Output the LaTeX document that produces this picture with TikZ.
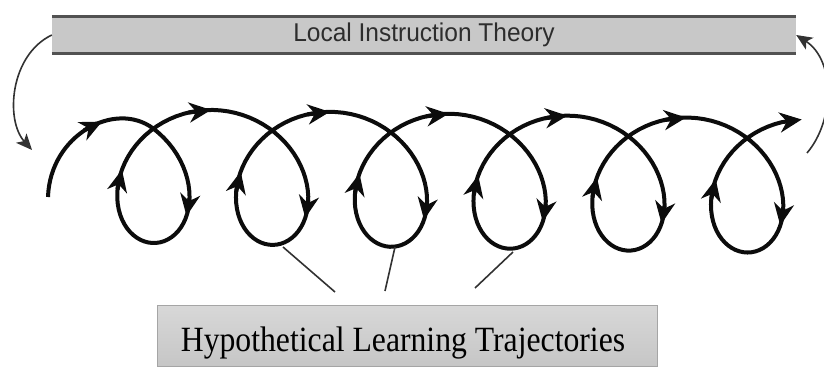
\documentclass[tikz,border=0pt]{standalone}
\usepackage{graphicx}
\usepackage{fontspec}
\setmainfont{Liberation Serif}
\newfontfamily\barfont{Liberation Sans}
\usetikzlibrary{arrows.meta,positioning}
\definecolor{barFill}{RGB}{200,200,200}
\definecolor{barLine}{RGB}{82,82,82}
\definecolor{barInk}{RGB}{45,45,45}
\definecolor{boxTop}{RGB}{216,216,216}
\definecolor{boxBottom}{RGB}{198,198,198}
\definecolor{boxLine}{RGB}{165,165,165}
\definecolor{curlInk}{RGB}{12,12,12}
\definecolor{pointerInk}{RGB}{50,50,50}
\tikzset{
  theorybar/.style={fill=barFill, minimum width=744pt, minimum height=37pt, inner sep=0pt, text=barInk, font=\barfont\fontsize{24.5}{28}\selectfont},
  barline/.style={draw=barLine, line width=3pt},
  hltbox/.style={draw=boxLine, line width=1pt, top color=boxTop, bottom color=boxBottom, minimum width=500pt, minimum height=61pt, inner sep=0pt},
  hlttext/.style={inner sep=0pt, text=black, font=\fontsize{31.7}{36}\selectfont},
  curl/.style={draw=curlInk, line width=4pt},
  curltip/.style={curl, -{Stealth[length=22pt, width=20pt, inset=7pt]}},
  feedback/.style={draw=pointerInk, line width=1.6pt, -{Stealth[length=16pt, width=14pt, inset=4pt]}},
  pointer/.style={draw=pointerInk, line width=1.6pt}
}

\begin{document}
\begin{tikzpicture}[x=1pt, y=-1pt,
  declare function={cx(\t)=94+18.9*\t+63*sin(\t r); cy(\t)=176-67*cos(\t r)+0.016*(18.9*\t+63*sin(\t r)-59);}]
  \useasboundingbox (0,0) rectangle (824,367);
  % theory bar
  \node[theorybar] (lit) at (424,35) {\scalebox{1}[1.05]{Local Instruction Theory}};
  \draw[barline] (lit.north west) -- (lit.north east);
  \draw[barline] (lit.south west) -- (lit.south east);
  % trajectories box
  \node[hltbox] (hlt) at (407,335.5) {};
  \node[hlttext, anchor=base] (hltlabel) at ([xshift=-4pt, yshift=-16pt]hlt.center) {\scalebox{1}[1.12]{Hypothetical Learning Trajectories}};
  % the curl of loops
  \draw[curltip] (48,197) .. controls (50,135) and (115,100) .. ({cx(0.78)},{cy(0.78)})
    -- plot[domain=0.78:37.4, samples=400, variable=\t] ({cx(\t)},{cy(\t)})
    -- ({cx(37.64)},{cy(37.64)});
  \draw[curltip] (84,130.3) -- (102,121.6);
  \foreach \k in {0,...,5} {
    \draw[curltip] ({cx(2*pi*\k+1.9)},{cy(2*pi*\k+1.9)}) -- ({cx(2*pi*\k+2.2)},{cy(2*pi*\k+2.2)});
    \draw[curltip] ({cx(2*pi*\k+4.5)},{cy(2*pi*\k+4.5)}) -- ({cx(2*pi*\k+4.8)},{cy(2*pi*\k+4.8)});
  }
  \foreach \k in {1,...,5}
    \draw[curltip] ({cx(2*pi*\k-0.3)},{cy(2*pi*\k-0.3)}) -- ({cx(2*pi*\k-0.02)},{cy(2*pi*\k-0.02)});
  % feedback arrows
  \coordinate (fbTip) at (32,150);
  \coordinate (fbEnd) at (807,153);
  \draw[feedback] (lit.west) .. controls (10,55) and (5,120) .. (fbTip);
  \draw[feedback] (fbEnd) .. controls (835,120) and (835,60) .. (lit.east);
  % pointers to the loops
  \coordinate (b1) at (283,247);
  \coordinate (e1) at (335,292);
  \coordinate (b2) at (395,247);
  \coordinate (e2) at (385,291);
  \coordinate (b3) at (513,252);
  \coordinate (e3) at (475,288);
  \draw[pointer] (b1) -- (e1);
  \draw[pointer] (b2) -- (e2);
  \draw[pointer] (b3) -- (e3);
\end{tikzpicture}
\end{document}
